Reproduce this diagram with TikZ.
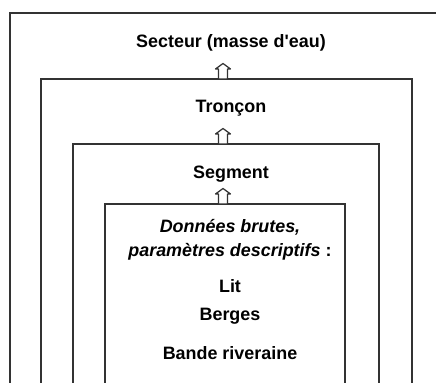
\documentclass[tikz,border=0pt]{standalone}
\usepackage{fontspec}
\setmainfont{Liberation Sans}
\usepackage{tikz}
\usetikzlibrary{positioning}

\tikzset{
  frame/.style={draw=black!80, line width=0.8pt},
  level/.style={font=\fontsize{10.2}{13.7}\selectfont\bfseries, inner sep=1pt, align=center},
  upbox/.style={draw=black!80, fill=white, line width=0.7pt, line join=round}
}

% hollow block arrow standing on a named point
\newcommand{\blockarrow}[1]{%
  \filldraw[upbox] (#1) ++(-0.09,0) -- ++(0,0.2) -- ++(-0.06,0) -- ++(0.15,0.11)
    -- ++(0.15,-0.11) -- ++(-0.06,0) -- ++(0,-0.2) -- cycle;}

\begin{document}
\begin{tikzpicture}
    \useasboundingbox (0,0) rectangle (8.72,7.66);

    % Nested boxes, open at the bottom
    \draw[frame] (0.20,0) |- (9.00,7.40);
    \draw[frame] (0.82,0) |- (8.24,6.08) -- (8.24,0);
    \draw[frame] (1.46,0) |- (7.58,4.78) -- (7.58,0);
    \draw[frame] (2.10,0) |- (6.90,3.58) -- (6.90,0);

    % Where the arrows start
    \coordinate (top2) at (4.46,6.08);
    \coordinate (top3) at (4.46,4.78);
    \coordinate (top4) at (4.46,3.58);

    % Levels
    \node[level] (secteur) at (4.62,6.80) {Secteur (masse d\textquotesingle eau)};
    \node[level] (troncon) at (4.62,5.50) {Tronçon};
    \node[level] (segment) at (4.62,4.18) {Segment};
    \node[level] (donnees) at (4.60,2.86) {\itshape Données brutes,\\
      {\itshape paramètres descriptifs} :};
    \node[level] (lit) at (4.60,1.94) {Lit};
    \node[level] (berges) at (4.60,1.34) {Berges};
    \node[level] (bande) at (4.60,0.60) {Bande riveraine};

    % Arrows up to the next level
    \blockarrow{top2}
    \blockarrow{top3}
    \blockarrow{top4}
\end{tikzpicture}
\end{document}
